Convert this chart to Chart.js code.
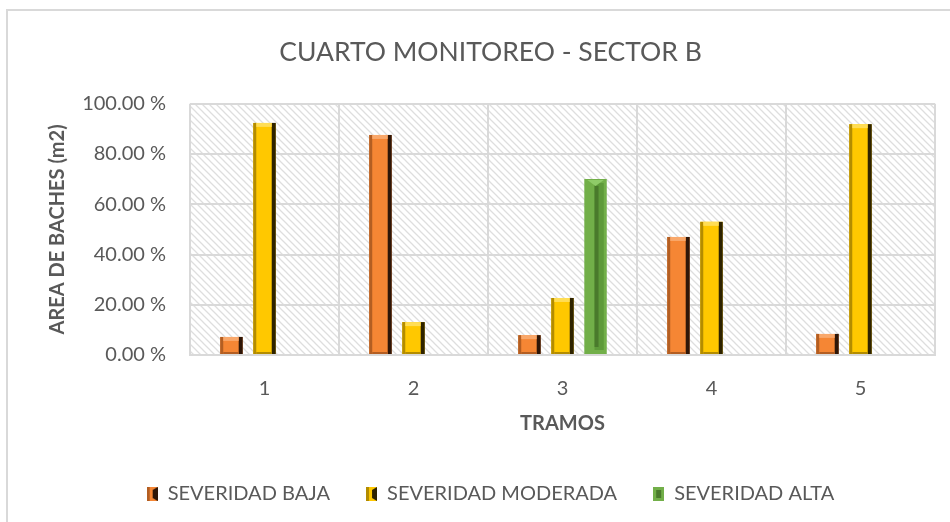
<!DOCTYPE html>
<html>
<head>
<meta charset="utf-8">
<script src="https://cdn.jsdelivr.net/npm/chart.js@4.4.1/dist/chart.umd.min.js"></script>
<style>
  html, body { margin: 0; padding: 0; background: #fff; }
  #wrap { width: 950px; height: 522px; position: relative; }
</style>
</head>
<body>
<div id="wrap"><canvas id="c"></canvas></div>
<script>
// Cuarto monitoreo - sector B: % de area de baches por tramo y severidad
var tramos = ['1', '2', '3', '4', '5'];
var severidadBaja = [7.2, 87.6, 7.9, 47.0, 8.4];
var severidadModerada = [92.4, 13.1, 22.7, 53.0, 91.9];
var severidadAlta = [0, 0, 70.1, 0, 0];
var yTicks = [0, 20, 40, 60, 80, 100];

var GRAY = '#595959';
var FONT = "Lato, 'Open Sans', sans-serif";

// colours per series: fill, light edge, dark edge
var styles = [
  { fill: '#F58634', light: '#F9A86B', dark: '#2E1608', side: '#B35E22' },
  { fill: '#FFC800', light: '#FFDD55', dark: '#2E2300', side: '#B38C00' },
  { fill: '#72AF49', light: '#8FCB68', dark: '#4A7A2C', side: '#5E9A3A' }
];

function hatchPattern(ctx) {
  var n = 7;
  var c = document.createElement('canvas');
  c.width = n; c.height = n;
  var g = c.getContext('2d');
  g.fillStyle = '#fff';
  g.fillRect(0, 0, n, n);
  g.strokeStyle = '#dedede';
  g.lineWidth = 1.3;
  g.beginPath();
  g.moveTo(-1, -1); g.lineTo(n + 1, n + 1);
  g.moveTo(-1, n - 1); g.lineTo(1, n + 1);
  g.moveTo(n - 1, -1); g.lineTo(n + 1, 1);
  g.stroke();
  return ctx.createPattern(c, 'repeat');
}

function legendIcon(st, green) {
  var c = document.createElement('canvas');
  c.width = 11; c.height = 14;
  var g = c.getContext('2d');
  g.fillStyle = st.fill;
  g.fillRect(0, 0, 11, 14);
  if (green) {
    g.fillStyle = st.dark;
    g.fillRect(3, 3, 5, 8);
    return c;
  }
  g.fillStyle = st.side;
  g.fillRect(0, 0, 3, 14);
  g.fillStyle = st.dark;
  g.beginPath();
  g.moveTo(11, 0); g.lineTo(6, 3); g.lineTo(6, 11); g.lineTo(11, 14);
  g.fill();
  return c;
}

var backgroundPlugin = {
  id: 'bg',
  beforeDraw: function (chart) {
    var ctx = chart.ctx, a = chart.chartArea;
    ctx.save();
    // outer frame
    ctx.strokeStyle = '#d9d9d9';
    ctx.lineWidth = 2;
    ctx.strokeRect(7, 10, 960, 540);
    ctx.fillStyle = hatchPattern(ctx);
    ctx.fillRect(a.left, a.top, a.right - a.left, a.bottom - a.top);
    ctx.restore();
  }
};

// bevel look on top of each bar, using the bar elements' own geometry
var bevelPlugin = {
  id: 'bevel',
  afterDatasetsDraw: function (chart) {
    var ctx = chart.ctx;
    ctx.save();
    chart.data.datasets.forEach(function (ds, i) {
      var st = styles[i];
      chart.getDatasetMeta(i).data.forEach(function (bar, j) {
        if (!ds.data[j]) return;
        var p = bar.getProps(['x', 'y', 'base', 'width'], true);
        var l = p.x - p.width / 2, r = p.x + p.width / 2, t = p.y, b = p.base;
        var e = Math.min(4, (b - t) / 2);
        if (i === 2) {
          ctx.fillStyle = st.side;
          ctx.fillRect(p.x - 1, t + 4, r - p.x - 2, b - t - 8);
          ctx.fillStyle = st.dark;
          ctx.fillRect(p.x - 1, t + 7, 4, b - t - 14);
          ctx.fillStyle = st.light;
          ctx.beginPath();
          ctx.moveTo(l + 3, t + 1); ctx.lineTo(r - 3, t + 1); ctx.lineTo(p.x, t + 7);
          ctx.fill();
          return;
        }
        ctx.fillStyle = st.side;
        ctx.fillRect(l, t, 3, b - t);
        ctx.fillStyle = st.dark;
        ctx.fillRect(r - 4, t, 4, b - t);
        ctx.fillStyle = st.light;
        ctx.fillRect(l + 3, t, p.width - 7, e);
        ctx.fillStyle = st.side;
        ctx.fillRect(l + 3, b - 2, p.width - 7, 2);
      });
    });
    ctx.restore();
  }
};

function makeDataset(label, data, st) {
  return {
    label: label,
    data: data,
    backgroundColor: st.fill,
    borderWidth: 0,
    categoryPercentage: 0.665,
    barPercentage: 0.68
  };
}

new Chart(document.getElementById('c'), {
  type: 'bar',
  data: {
    labels: tramos,
    datasets: [
      makeDataset('SEVERIDAD BAJA', severidadBaja, styles[0]),
      makeDataset('SEVERIDAD MODERADA', severidadModerada, styles[1]),
      makeDataset('SEVERIDAD ALTA', severidadAlta, styles[2])
    ]
  },
  plugins: [backgroundPlugin, bevelPlugin],
  options: {
    responsive: true, maintainAspectRatio: false, animation: false,
    layout: { padding: { left: 46, right: 15, top: 0, bottom: 8 } },
    scales: {
      x: {
        grid: { color: '#d9d9d9', lineWidth: 2, drawTicks: false, offset: true },
        border: { color: '#d9d9d9', width: 2 },
        ticks: { color: GRAY, font: { family: FONT, size: 20 }, padding: 22 },
        title: { display: true, text: 'TRAMOS', color: GRAY,
                 font: { family: FONT, size: 20, weight: 'bold' }, padding: { top: -11, bottom: 12 } }
      },
      y: {
        min: 0, max: 100,
        afterBuildTicks: function (s) { s.ticks = yTicks.map(function (v) { return { value: v }; }); },
        afterFit: function (s) { s.width = 144; },
        grid: { color: '#d9d9d9', lineWidth: 2, drawTicks: false },
        border: { display: false },
        ticks: {
          color: GRAY, font: { family: FONT, size: 20 }, padding: 24,
          callback: function (v) { return v.toFixed(2) + ' %'; }
        },
        title: { display: true, text: 'AREA DE BACHES (m2)', color: GRAY,
                 font: { family: FONT, size: 20, weight: 'bold' }, padding: { top: 0, bottom: 4 } }
      }
    },
    plugins: {
      title: {
        display: true, text: 'CUARTO MONITOREO - SECTOR B', color: GRAY,
        font: { family: FONT, size: 26.5, weight: 'normal' },
        padding: { top: 37, bottom: 35 }
      },
      legend: {
        position: 'bottom',
        labels: {
          color: GRAY, font: { family: FONT, size: 20 }, padding: 36,
          usePointStyle: true, pointStyleWidth: 11,
          generateLabels: function (chart) {
            return chart.data.datasets.map(function (ds, i) {
              return { text: ds.label, pointStyle: legendIcon(styles[i], i === 2), fillStyle: styles[i].fill,
                       strokeStyle: styles[i].fill, lineWidth: 0, datasetIndex: i, fontColor: GRAY };
            });
          }
        }
      },
      tooltip: { enabled: false }
    }
  }
});
</script>
</body>
</html>
